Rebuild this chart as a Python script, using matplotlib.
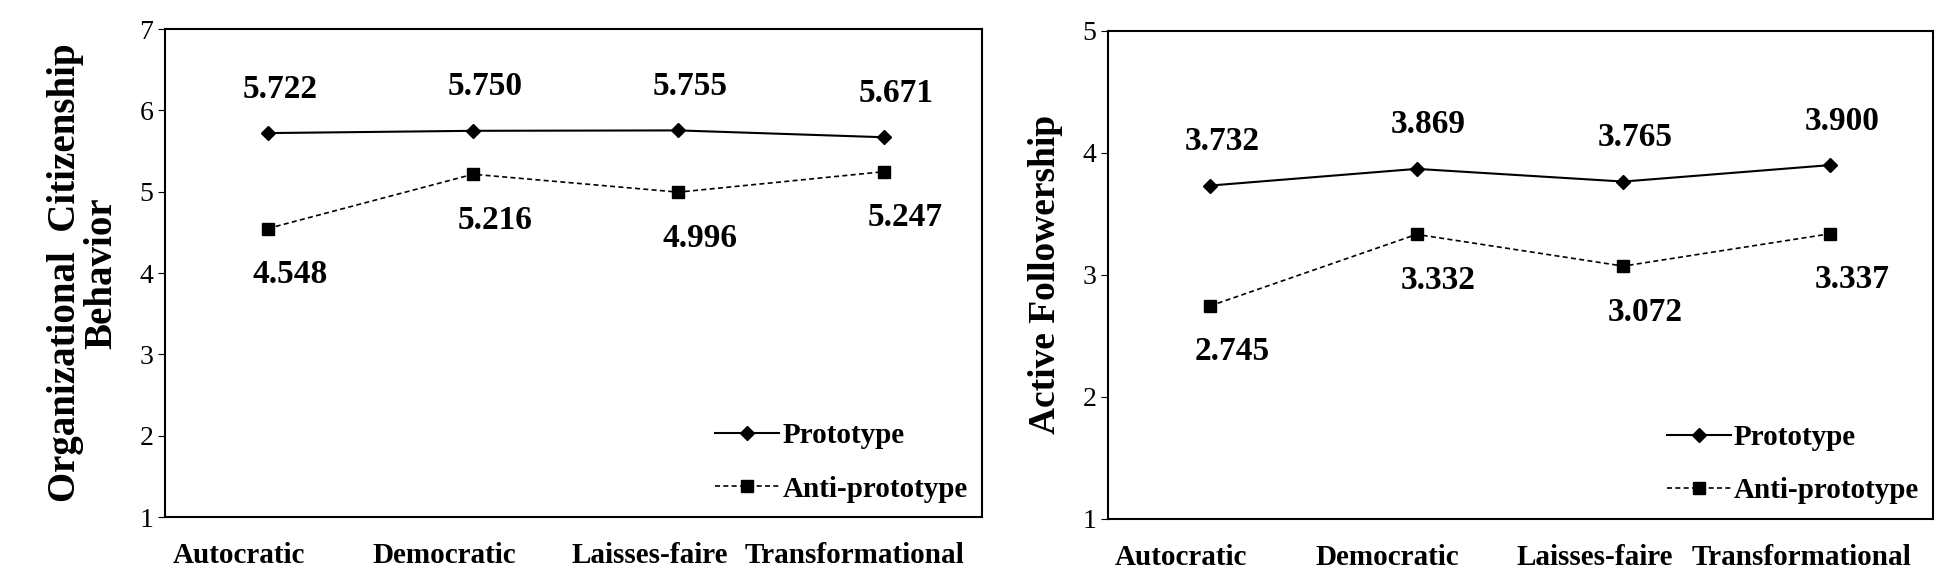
import matplotlib
matplotlib.use("Agg")
import matplotlib.pyplot as plt

categories = ["Autocratic", "Democratic", "Laisses-faire", "Transformational"]
ocb_proto = [5.722, 5.750, 5.755, 5.671]
ocb_anti = [4.548, 5.216, 4.996, 5.247]
af_proto = [3.732, 3.869, 3.765, 3.900]
af_anti = [2.745, 3.332, 3.072, 3.337]

plt.rcParams['font.family'] = ['Liberation Serif', 'DejaVu Serif']
fig = plt.figure(figsize=(19.55, 5.83), dpi=100)
ax1 = fig.add_axes([0.0844, 0.113, 0.418, 0.837])
ax2 = fig.add_axes([0.567, 0.110, 0.422, 0.837])

def draw(ax, proto, anti, ylim, ylabel, ylsize, xlim):
    x = list(range(len(categories)))
    ax.plot(x, proto, '-', color='black', lw=1.5, marker='D', ms=7, label='Prototype')
    ax.plot(x, anti, '--', color='black', lw=1.2, marker='s', ms=9, label='Anti-prototype', dashes=(3, 2))
    for xi, v in zip(x, proto):
        ax.annotate(f"{v:.3f}", (xi, v), xytext=(12, 44), textcoords='offset pixels',
                    ha='center', va='center', fontsize=24, fontweight='bold')
    for xi, v in zip(x, anti):
        ax.annotate(f"{v:.3f}", (xi, v), xytext=(22, -46), textcoords='offset pixels',
                    ha='center', va='center', fontsize=24, fontweight='bold')
    ax.set_ylim(*ylim)
    ax.set_xlim(*xlim)
    ax.set_yticks(range(ylim[0], ylim[1] + 1))
    ax.tick_params(axis='y', labelsize=20, direction='out', length=5)
    ax.set_xticks([xi - 0.14 for xi in x])
    ax.set_xticklabels(categories, fontsize=21, fontweight='bold')
    ax.tick_params(axis='x', length=0, pad=18)
    for s in ax.spines.values():
        s.set_linewidth(1.5)
    ax.set_ylabel(ylabel, fontsize=ylsize, fontweight='bold', labelpad=14, linespacing=0.95)
    ax.legend(loc='lower right', frameon=False, prop={'weight': 'bold', 'size': 21},
              labelspacing=0.9, handlelength=2.2, handletextpad=0.1, borderaxespad=0.1)

draw(ax1, ocb_proto, ocb_anti, (1, 7), "Organizational  Citizenship\nBehavior", 28, (-0.5, 3.48))
draw(ax2, af_proto, af_anti, (1, 5), "Active Followership", 27, (-0.49, 3.5))

fig.savefig("out.png", dpi=100)
